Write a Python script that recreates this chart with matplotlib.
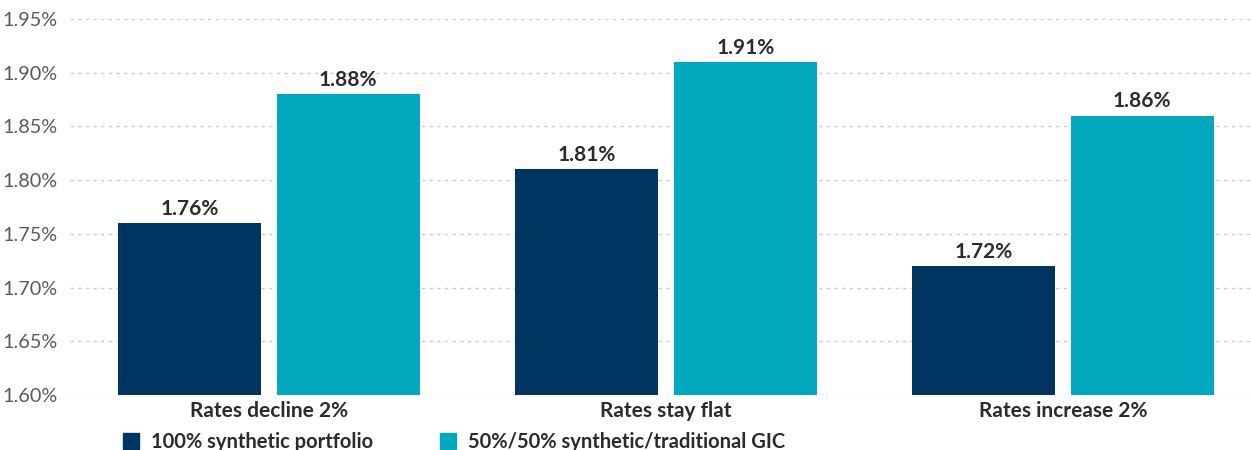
import matplotlib
matplotlib.use("Agg")
import matplotlib.pyplot as plt
from matplotlib.patches import Rectangle
from matplotlib.ticker import FuncFormatter
import numpy as np

plt.rcParams.update({
    "font.family": ["Lato", "DejaVu Sans"],
    "figure.dpi": 100,
})

categories = ["Rates decline 2%", "Rates stay flat", "Rates increase 2%"]
synthetic = [1.76, 1.81, 1.72]
blended = [1.88, 1.91, 1.86]
series_names = ["100% synthetic portfolio", "50%/50% synthetic/traditional GIC"]
y_ticks = [1.60, 1.65, 1.70, 1.75, 1.80, 1.85, 1.90, 1.95]

NAVY = "#003562"
TEAL = "#02A9BE"
TEXT = "#2b2b2b"

fig = plt.figure(figsize=(12.51, 4.5))
ax = fig.add_axes([0.056, 0.122, 0.944, 0.836])

x = np.arange(len(categories))
w = 0.36
off = 0.2
ax.bar(x - off, np.array(synthetic) - 1.60, w, bottom=1.60, color=NAVY, zorder=3)
ax.bar(x + off, np.array(blended) - 1.60, w, bottom=1.60, color=TEAL, zorder=3)

for xs, vals in [(x - off, synthetic), (x + off, blended)]:
    for xi, v in zip(xs, vals):
        ax.text(xi, v + 0.004, f"{v:.2f}%", ha="center", va="bottom",
                fontsize=15, fontweight="bold", color=TEXT)

ax.set_ylim(1.60, 1.95)
ax.set_xlim(-0.501, 2.474)
ax.set_yticks(y_ticks)
ax.yaxis.set_major_formatter(FuncFormatter(lambda v, _: f"{v:.2f}%"))
ax.tick_params(axis="y", length=0, pad=9, labelsize=14.3, labelcolor="#5a5a5a")
ax.set_xticks(x)
ax.set_xticklabels(categories, fontsize=15, fontweight="bold", color=TEXT)
ax.tick_params(axis="x", length=0, pad=4)

ax.grid(axis="y", color="#cccccc", linestyle=(0, (2.5, 3)), linewidth=1, zorder=0)
for s in ax.spines.values():
    s.set_visible(False)

# legend at bottom
handles = [Rectangle((0, 0), 1, 1, color=NAVY), Rectangle((0, 0), 1, 1, color=TEAL)]
leg = fig.legend(handles, series_names, loc="lower left", bbox_to_anchor=(0.084, -0.045),
                 ncol=2, frameon=False, handlelength=0.8, handleheight=0.8,
                 handletextpad=0.6, columnspacing=3.3,
                 prop={"weight": "bold", "size": 14.5})
for t in leg.get_texts():
    t.set_color(TEXT)

fig.savefig("out.png", dpi=100)
